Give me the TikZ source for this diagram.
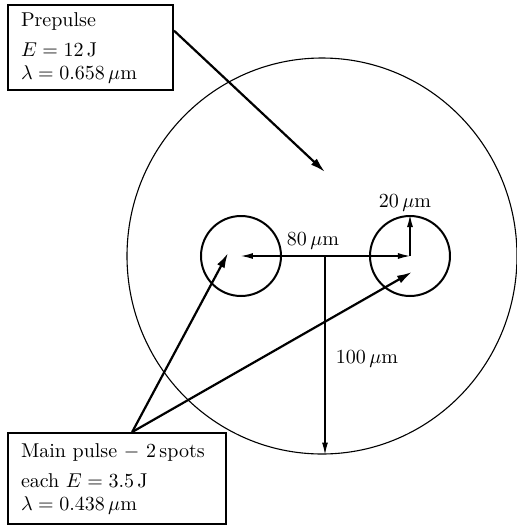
\documentclass[tikz,border=0pt]{standalone}
\usetikzlibrary{arrows.meta,calc,shapes.geometric}
\begin{document}
\begin{tikzpicture}[x=0.5pt,y=-0.5pt,
  infobox/.style={draw,line width=1pt,anchor=north west,align=left,inner xsep=6.5pt,inner ysep=0pt,font=\fontsize{10}{11.5}\selectfont},
  pointer/.style={line width=1.1pt,-{Latex[length=7.5pt,width=4.2pt]}},
  dimline/.style={line width=0.55pt,-{Latex[length=6pt,width=3pt]}},
  spot/.style={circle,draw,line width=1pt,minimum size=40pt,inner sep=0pt},
  lbl/.style={font=\fontsize{10}{11.5}\selectfont,inner sep=0pt}]
\useasboundingbox (0,0) rectangle (517,527);
% big circle
\node[ellipse,draw,line width=0.55pt,minimum width=195pt,minimum height=198pt,inner sep=0pt] (big) at (322,256) {};
% spots
\node[spot] (L) at (241,256) {};
\node[spot] (R) at (410,256) {};
% boxes
\node[infobox,text width=69.5pt,minimum height=42.5pt] (pre) at (7,4)
  {Prepulse\\[3.5pt] $E=12\,\mathrm{J}$\\ $\lambda=0.658\,\mu\mathrm{m}$};
\node[infobox,text width=96pt,minimum height=45.5pt] (main) at (7,432)
  {Main pulse $-$ 2\,spots\\[3.5pt] each $E=3.5\,\mathrm{J}$\\ $\lambda=0.438\,\mu\mathrm{m}$};
% dimensions
\coordinate (c) at (325,256);
\draw[dimline] (c) -- (L.center);
\draw[dimline] (c) -- (R.center);
\draw[dimline] (c) -- (c |- big.south);
\draw[dimline] (R.center) -- (R.north);
\node[lbl] (l80) at (313,241) {$80\,\mu\mathrm{m}$};
\node[lbl] (l20) at (405,203) {$20\,\mu\mathrm{m}$};
\node[lbl] (l100) at (367,359) {$100\,\mu\mathrm{m}$};
% pointers
\coordinate (ptarget) at (325,172);
\coordinate (ltarget) at (228,253);
\coordinate (rtarget) at (412,272);
\coordinate (pstart) at ($(pre.north east)!0.306!(pre.south east)$);
\coordinate (mstart) at ($(main.north west)!0.569!(main.north east)$);
\draw[pointer] (pstart) -- (ptarget);
\draw[pointer] (mstart) -- (ltarget);
\draw[pointer] (mstart) -- (rtarget);
\end{tikzpicture}
\end{document}
